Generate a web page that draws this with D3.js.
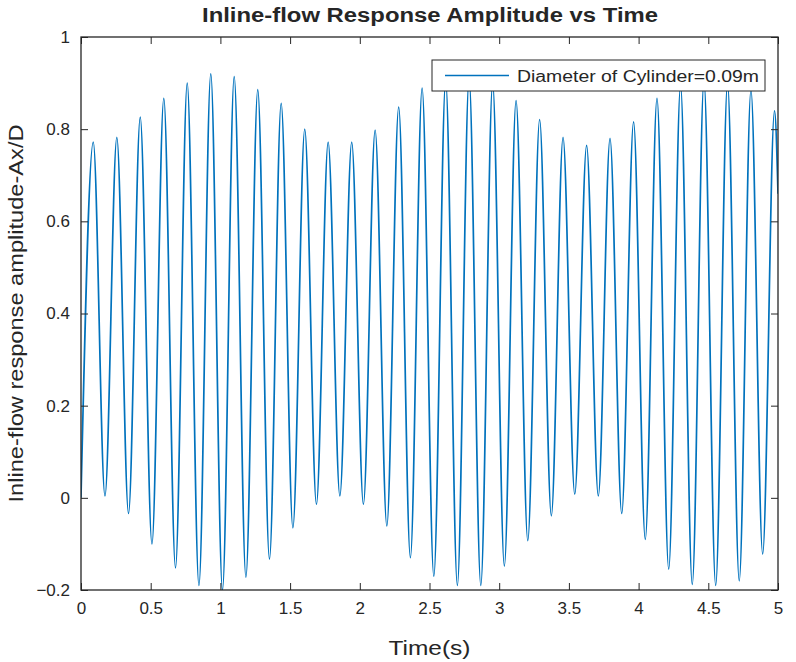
<!DOCTYPE html>
<html>
<head>
<meta charset="utf-8">
<script src="https://cdn.jsdelivr.net/npm/d3@7"></script>
<style>
  body { margin: 0; background: #fff; }
  text { font-family: "Liberation Sans", Arial, sans-serif; fill: #262626; }
</style>
</head>
<body>
<div id="graph"></div>
<script>
var titleText = 'Inline-flow Response Amplitude vs Time'
var xLabel = 'Time(s)'
var yLabel = 'Inline-flow response amplitude-Ax/D'
var legendLabel = 'Diameter of Cylinder=0.09m'

var xTicks = [0, 0.5, 1, 1.5, 2, 2.5, 3, 3.5, 4, 4.5, 5]
var yTicks = [-0.2, 0, 0.2, 0.4, 0.6, 0.8, 1]

// crests and troughs
var peakTimes = [0.088, 0.257, 0.425, 0.594, 0.762, 0.931, 1.099, 1.268, 1.436, 1.605,
  1.773, 1.942, 2.110, 2.279, 2.447, 2.616, 2.784, 2.953, 3.121, 3.290,
  3.458, 3.627, 3.795, 3.964, 4.132, 4.301, 4.469, 4.638, 4.806, 4.975]
var peakValues = [0.772, 0.782, 0.826, 0.867, 0.900, 0.920, 0.914, 0.886, 0.856, 0.800,
  0.772, 0.772, 0.798, 0.848, 0.889, 0.905, 0.910, 0.900, 0.862, 0.821,
  0.782, 0.765, 0.780, 0.816, 0.867, 0.895, 0.905, 0.900, 0.885, 0.840]
var troughTimes = [0.172, 0.341, 0.509, 0.678, 0.846, 1.015, 1.183, 1.352, 1.520, 1.689,
  1.857, 2.026, 2.194, 2.363, 2.531, 2.700, 2.868, 3.037, 3.205, 3.374,
  3.542, 3.711, 3.879, 4.048, 4.216, 4.385, 4.553, 4.722, 4.890]
var troughValues = [0.004, -0.034, -0.100, -0.152, -0.190, -0.200, -0.172, -0.133, -0.065, -0.014,
  0.004, -0.014, -0.061, -0.130, -0.170, -0.190, -0.190, -0.148, -0.093, -0.039,
  0.008, 0.004, -0.034, -0.090, -0.155, -0.188, -0.190, -0.180, -0.122]
var startPoint = [0, 0.0]
var endPoint = [5, 0.66]

var W = 796, H = 662
var m = {top: 37, right: 18, bottom: 72, left: 81}
var width = W - m.left - m.right, height = H - m.top - m.bottom

var svg = d3.select('#graph').append('svg')
    .attr('width', W).attr('height', H)
var g = svg.append('g').attr('transform', 'translate(' + m.left + ',' + m.top + ')')

var x = d3.scaleLinear().domain([0, 5]).range([0, width])
var y = d3.scaleLinear().domain([-0.2, 1]).range([height, 0])

var pts = [startPoint]
peakTimes.forEach(function(t, i){ pts.push([t, peakValues[i]]) })
troughTimes.forEach(function(t, i){ pts.push([t, troughValues[i]]) })
pts.push(endPoint)
pts.sort(function(a, b){ return a[0] - b[0] })

g.append('clipPath').attr('id', 'clip')
  .append('rect').attr('width', width).attr('height', height)

var line = d3.line()
    .x(function(d){ return x(d[0]) })
    .y(function(d){ return y(d[1]) })
    .curve(d3.curveMonotoneX)

g.append('path').datum(pts)
    .attr('clip-path', 'url(#clip)')
    .attr('d', line)
    .attr('fill', 'none')
    .attr('stroke', '#0072BD')
    .attr('stroke-width', 1.7)

// axes, ticks inward on all four sides like MATLAB's box
var tk = 7
var axisStyle = function(sel){
  sel.select('.domain').remove()
  sel.selectAll('.tick line').attr('stroke', '#262626').attr('stroke-width', 1)
  sel.selectAll('.tick text').attr('font-size', 17).attr('fill', '#262626')
}
g.append('g').attr('transform', 'translate(0,' + height + ')')
  .call(d3.axisBottom(x).tickValues(xTicks).tickSizeInner(-tk).tickSizeOuter(0).tickPadding(12).tickFormat(d3.format('')))
  .call(axisStyle)
g.append('g')
  .call(d3.axisTop(x).tickValues(xTicks).tickSizeInner(-tk).tickSizeOuter(0).tickFormat(''))
  .call(axisStyle)
g.append('g')
  .call(d3.axisLeft(y).tickValues(yTicks).tickSizeInner(-tk).tickSizeOuter(0).tickPadding(11).tickFormat(d3.format('')))
  .call(axisStyle)
g.append('g').attr('transform', 'translate(' + width + ',0)')
  .call(d3.axisRight(y).tickValues(yTicks).tickSizeInner(-tk).tickSizeOuter(0).tickFormat(''))
  .call(axisStyle)

g.append('rect').attr('width', width).attr('height', height)
  .attr('fill', 'none').attr('stroke', '#262626').attr('stroke-width', 1.3)

// legend
var lg = g.append('g').attr('transform', 'translate(' + (432 - m.left) + ',' + (60 - m.top) + ')')
lg.append('rect').attr('width', 333).attr('height', 31)
  .attr('fill', '#fff').attr('stroke', '#262626').attr('stroke-width', 1)
lg.append('line').attr('x1', 13).attr('x2', 77).attr('y1', 15.5).attr('y2', 15.5)
  .attr('stroke', '#0072BD').attr('stroke-width', 1.7)
lg.append('text').attr('x', 85).attr('y', 21.5)
  .attr('font-size', 16).attr('textLength', 242).attr('lengthAdjust', 'spacingAndGlyphs')
  .text(legendLabel)

// titles
svg.append('text').attr('x', 430).attr('y', 22)
  .attr('text-anchor', 'middle').attr('font-size', 20).attr('font-weight', 'bold')
  .attr('textLength', 456).attr('lengthAdjust', 'spacingAndGlyphs')
  .text(titleText)
svg.append('text').attr('x', m.left + width / 2).attr('y', 655)
  .attr('text-anchor', 'middle').attr('font-size', 21)
  .attr('textLength', 82).attr('lengthAdjust', 'spacingAndGlyphs')
  .text(xLabel)
svg.append('text')
  .attr('transform', 'translate(23,' + (m.top + height / 2) + ') rotate(-90)')
  .attr('text-anchor', 'middle').attr('font-size', 21)
  .attr('textLength', 378).attr('lengthAdjust', 'spacingAndGlyphs')
  .text(yLabel)
</script>
</body>
</html>
